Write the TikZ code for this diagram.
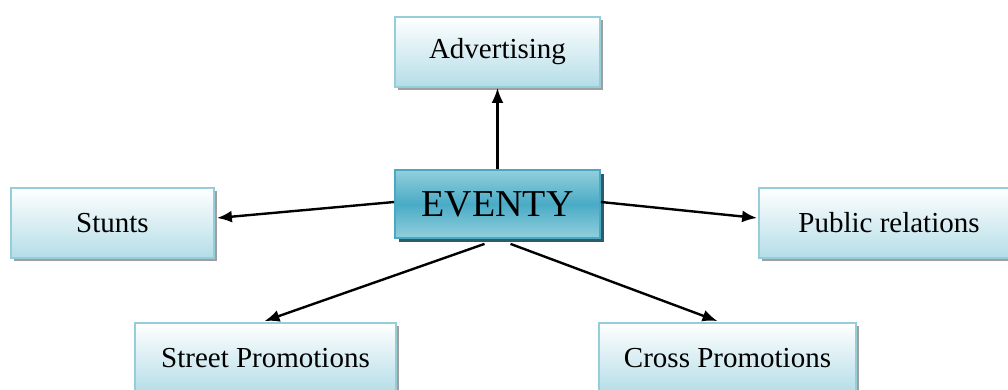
\documentclass[tikz,border=0pt]{standalone}
\usepackage{fontspec}
\setmainfont{Liberation Serif}
\usepackage{tikz}
\usetikzlibrary{arrows.meta,shadows}
\definecolor{boxline}{RGB}{148,206,219}
\definecolor{boxbottom}{RGB}{180,221,231}
\definecolor{hubline}{RGB}{74,168,194}
\definecolor{hublight}{RGB}{146,207,221}
\definecolor{hubdark}{RGB}{74,171,198}
\definecolor{hubshadow}{RGB}{42,93,107}
\tikzstyle{tactic} = [draw=boxline, line width=1.8pt, rectangle, top color=white, bottom color=boxbottom, minimum height=70pt, inner sep=0pt, font=\fontsize{29}{34}\selectfont, drop shadow={shadow xshift=3pt, shadow yshift=-3pt, fill=gray!75, opacity=1}]
\tikzstyle{hub} = [draw=hubline, line width=1.8pt, rectangle, top color=hublight, bottom color=hublight, middle color=hubdark, minimum width=205pt, minimum height=68pt, inner sep=0pt, font=\fontsize{38}{42}\selectfont, drop shadow={shadow xshift=4pt, shadow yshift=-4pt, fill=hubshadow, opacity=1}]
\tikzstyle{link} = [line width=2.4pt, -{Latex[length=15pt,width=12pt]}]

\begin{document}
\begin{tikzpicture}[x=1pt,y=1pt]
		\useasboundingbox[fill=white] (0,0) rectangle (1008,389);
		\node[hub](evt) at (497.5,185) {EVENTY};
		\node[tactic, minimum width=205pt](adv) at (497.5,337) {Advertising};
		\node[tactic, minimum width=203pt](stunts) at (112.5,166) {Stunts};
		\node[tactic, minimum width=260pt](pr) at (889,166) {Public relations};
		\node[tactic, minimum width=261pt](street) at (265.5,31) {Street Promotions};
		\node[tactic, minimum width=257pt](cross) at (727.5,31) {Cross Promotions};
		% arrows out of the hub
		\draw[link] (evt.north) -- (adv.south);
		\draw[link] ([yshift=2pt]evt.west) -- ([xshift=2pt,yshift=5pt]stunts.east);
		\draw[link] ([yshift=2pt]evt.east) -- ([xshift=-1pt,yshift=5pt]pr.west);
		\draw[link] ([xshift=-13pt,yshift=-5pt]evt.south) -- ([xshift=-1pt,yshift=1pt]street.north);
		\draw[link] ([xshift=13pt,yshift=-5pt]evt.south) -- ([xshift=-10pt,yshift=1pt]cross.north);
	\end{tikzpicture}
\end{document}
